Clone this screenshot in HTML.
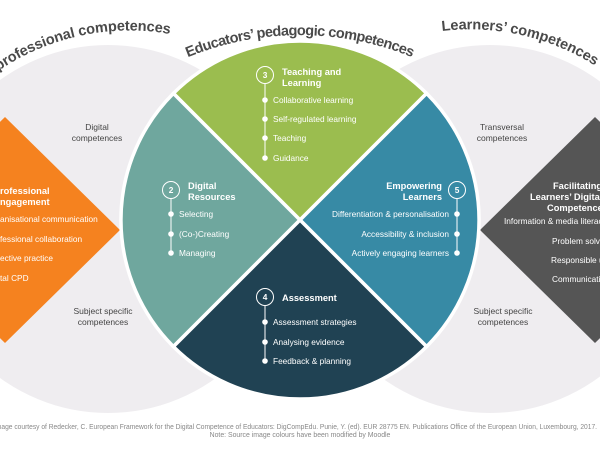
<!DOCTYPE html>
<html><head><meta charset="utf-8"><style>
html,body{margin:0;padding:0;background:#fff;}
svg{display:block;font-family:"Liberation Sans",sans-serif;}
</style></head><body>
<svg width="600" height="450" viewBox="0 0 600 450" xmlns="http://www.w3.org/2000/svg">
<circle cx="108" cy="229" r="184" fill="#efedf0"/>
<circle cx="490" cy="229" r="184" fill="#efedf0"/>
<polygon points="5,117 120,230 5,343 -110,230" fill="#f5821f"/>
<polygon points="595,117 480,230 595,343 710,230" fill="#555555"/>
<g stroke="#fff" stroke-width="3.5">
<path d="M300 220 L173.4 93.4 A179 179 0 0 1 426.6 93.4 Z" fill="#9bbd4f"/>
<path d="M300 220 L173.4 93.4 A179 179 0 0 0 173.4 346.6 Z" fill="#6fa79e"/>
<path d="M300 220 L426.6 93.4 A179 179 0 0 1 426.6 346.6 Z" fill="#378aa5"/>
<path d="M300 220 L173.4 346.6 A179 179 0 0 0 426.6 346.6 Z" fill="#204253"/>
</g>
<defs>
<path id="a1" d="M -90 184 A 234 234 0 0 1 170 34"/>
<path id="a2" d="M 150 76 A 296 296 0 0 1 450 76"/>
<path id="a3" d="M 442 31 A 234 234 0 0 1 690 184"/>
</defs>
<g font-weight="bold" font-size="14.5" fill="#4a4a4a">
<text><textPath href="#a1" startOffset="100%" text-anchor="end" textLength="180">professional competences</textPath></text>
<text><textPath href="#a2" startOffset="50%" text-anchor="middle" textLength="230">Educators’ pedagogic competences</textPath></text>
<text><textPath href="#a3" startOffset="0" textLength="160">Learners’ competences</textPath></text>
</g>
<g font-size="8.5" fill="#444" text-anchor="middle">
<text x="97" y="130">Digital</text><text x="97" y="141">competences</text>
<text x="103" y="314">Subject specific</text><text x="103" y="325">competences</text>
<text x="502" y="130">Transversal</text><text x="502" y="141">competences</text>
<text x="503" y="314">Subject specific</text><text x="503" y="325">competences</text>
</g>
<g fill="#fff" font-size="8.3">
<circle cx="265" cy="75" r="8.5" fill="none" stroke="#fff" stroke-width="1"/>
<text x="265" y="78" font-weight="bold" text-anchor="middle">3</text>
<text x="282" y="75" font-weight="bold" font-size="9.3">Teaching and</text>
<text x="282" y="86" font-weight="bold" font-size="9.3">Learning</text>
<line x1="265" y1="84" x2="265" y2="158" stroke="#fff" stroke-width="1"/>
<circle cx="265" cy="100" r="2.8"/><circle cx="265" cy="119" r="2.8"/><circle cx="265" cy="138" r="2.8"/><circle cx="265" cy="158" r="2.8"/>
<text x="273" y="103">Collaborative learning</text>
<text x="273" y="122">Self-regulated learning</text>
<text x="273" y="141">Teaching</text>
<text x="273" y="161">Guidance</text>
<circle cx="171" cy="190" r="8.5" fill="none" stroke="#fff" stroke-width="1"/>
<text x="171" y="193" font-weight="bold" text-anchor="middle">2</text>
<text x="188" y="189" font-weight="bold" font-size="9.3">Digital</text>
<text x="188" y="200" font-weight="bold" font-size="9.3">Resources</text>
<line x1="171" y1="199" x2="171" y2="253" stroke="#fff" stroke-width="1"/>
<circle cx="171" cy="214" r="2.8"/><circle cx="171" cy="234" r="2.8"/><circle cx="171" cy="253" r="2.8"/>
<text x="179" y="217">Selecting</text>
<text x="179" y="237">(Co-)Creating</text>
<text x="179" y="256">Managing</text>
<circle cx="457" cy="190" r="8.5" fill="none" stroke="#fff" stroke-width="1"/>
<text x="457" y="193" font-weight="bold" text-anchor="middle">5</text>
<text x="442" y="189" font-weight="bold" font-size="9.3" text-anchor="end">Empowering</text>
<text x="442" y="200" font-weight="bold" font-size="9.3" text-anchor="end">Learners</text>
<line x1="457" y1="199" x2="457" y2="253" stroke="#fff" stroke-width="1"/>
<circle cx="457" cy="214" r="2.8"/><circle cx="457" cy="234" r="2.8"/><circle cx="457" cy="253" r="2.8"/>
<text x="449" y="217" text-anchor="end">Differentiation &amp; personalisation</text>
<text x="449" y="237" text-anchor="end">Accessibility &amp; inclusion</text>
<text x="449" y="256" text-anchor="end">Actively engaging learners</text>
<circle cx="265" cy="297" r="8.5" fill="none" stroke="#fff" stroke-width="1"/>
<text x="265" y="300" font-weight="bold" text-anchor="middle">4</text>
<text x="282" y="301" font-weight="bold" font-size="9.3">Assessment</text>
<line x1="265" y1="306" x2="265" y2="361" stroke="#fff" stroke-width="1"/>
<circle cx="265" cy="322" r="2.8"/><circle cx="265" cy="342" r="2.8"/><circle cx="265" cy="361" r="2.8"/>
<text x="273" y="325">Assessment strategies</text>
<text x="273" y="345">Analysing evidence</text>
<text x="273" y="364">Feedback &amp; planning</text>
<text x="0" y="194" font-weight="bold" font-size="9.3">rofessional</text>
<text x="0" y="205" font-weight="bold" font-size="9.3">ngagement</text>
<text x="0" y="222">anisational communication</text>
<text x="0" y="242">fessional collaboration</text>
<text x="0" y="261">ective practice</text>
<text x="0" y="281">tal CPD</text>
<text x="553" y="189" font-weight="bold" font-size="9.3">Facilitating</text>
<text x="530" y="200" font-weight="bold" font-size="9.3">Learners’ Digital</text>
<text x="547" y="211" font-weight="bold" font-size="9.3">Competence</text>
<text x="504" y="224">Information &amp; media literacy</text>
<text x="552" y="244">Problem solving</text>
<text x="551" y="263">Responsible use</text>
<text x="552" y="282">Communication</text>
</g>
<g font-size="6.9" fill="#888">
<text x="-6" y="429" textLength="603" lengthAdjust="spacingAndGlyphs">Image courtesy of Redecker, C. European Framework for the Digital Competence of Educators: DigCompEdu. Punie, Y. (ed). EUR 28775 EN. Publications Office of the European Union, Luxembourg, 2017.</text>
<text x="300" y="437" text-anchor="middle">Note: Source image colours have been modified by Moodle</text>
</g>
</svg>
</body></html>
